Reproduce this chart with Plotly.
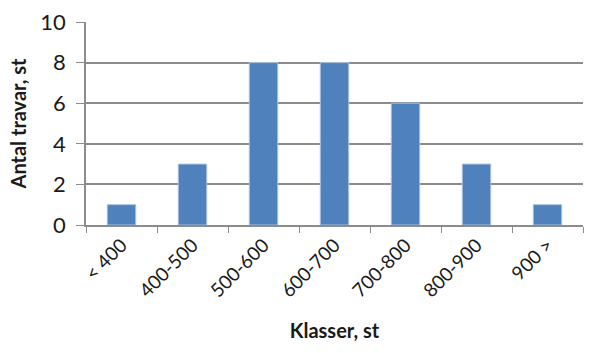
import plotly.graph_objects as go

# Size classes and number of stacks in each
klasser = ["< 400", "400-500", "500-600", "600-700", "700-800", "800-900", "900 >"]
antal = [1, 3, 8, 8, 6, 3, 1]

font_family = "Lato, 'Open Sans', sans-serif"
grid_color = "#8c8c8c"

fig = go.Figure(
    go.Bar(
        x=klasser,
        y=antal,
        marker=dict(color="#4f81bd", line=dict(color="#a9c0de", width=1)),
        width=0.4,
    )
)

fig.update_layout(
    width=589,
    height=353,
    margin=dict(l=86, r=6, t=22, b=128),
    paper_bgcolor="white",
    plot_bgcolor="white",
    showlegend=False,
    font=dict(family=font_family, color="#1a1a1a"),
)

fig.update_xaxes(
    type="category",
    tickangle=-45,
    tickfont=dict(size=19),
    ticks="outside",
    tickson="boundaries",
    ticklen=6,
    tickcolor=grid_color,
    showline=True,
    linecolor=grid_color,
    linewidth=1.5,
    title=dict(text="<b>Klasser, st</b>", font=dict(size=20), standoff=24),
)

fig.update_yaxes(
    range=[0, 10],
    dtick=2,
    tickfont=dict(size=22),
    ticks="outside",
    ticklen=8,
    ticklabelstandoff=6,
    tickcolor=grid_color,
    showgrid=True,
    gridcolor=grid_color,
    gridwidth=1.5,
    showline=True,
    linecolor=grid_color,
    linewidth=1.5,
    zeroline=False,
    title=dict(text="<b>Antal travar, st</b>", font=dict(size=20), standoff=8),
)

fig.write_html("out.html")
